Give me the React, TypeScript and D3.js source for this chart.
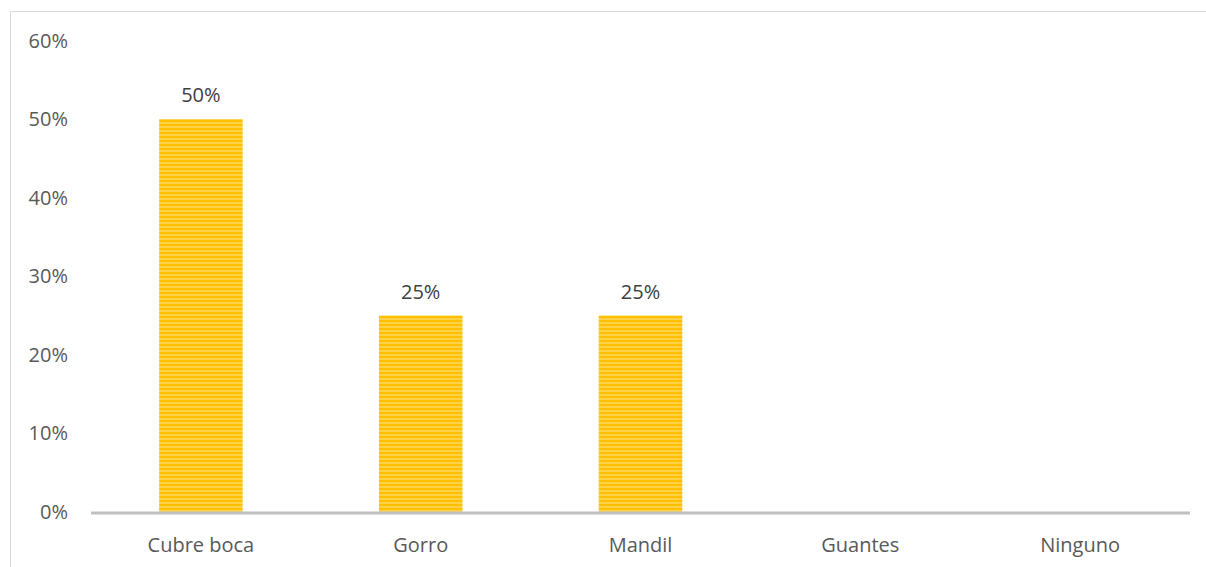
import React from "react";
import * as d3 from "d3";

const categories = ["Cubre boca", "Gorro", "Mandil", "Guantes", "Ninguno"];
const values = [0.5, 0.25, 0.25, 0, 0];
const yTicks = [0, 0.1, 0.2, 0.3, 0.4, 0.5, 0.6];

const W = 1206;
const H = 567;

export default function App() {
  const x = d3.scaleBand<string>().domain(categories).range([91, 1190]).paddingInner(0.62).paddingOuter(0.31);
  const y = d3.scaleLinear().domain([0, 0.6]).range([512, 40.5]);
  const fmt = d3.format(".0%");
  const font = "'Open Sans', 'Liberation Sans', sans-serif";
  const fs = 20;
  return (
    <svg width={W} height={H} style={{ position: "absolute", left: 0, top: 0, background: "#fff" }} fontFamily={font}>
      <defs>
        <pattern id="stripes" width="8" height="4" patternUnits="userSpaceOnUse">
          <rect width="8" height="4" fill="#ffc000" />
          <rect y="2.5" width="8" height="1" fill="#ffe38f" />
        </pattern>
      </defs>
      <rect x={10.5} y={11.5} width={W} height={H} fill="none" stroke="#d9d9d9" />
      {yTicks.map((t) => (
        <text key={t} x={68} y={y(t)} dy="0.35em" textAnchor="end" fontSize={fs} fill="#595959">
          {fmt(t)}
        </text>
      ))}
      {categories.map((c, i) =>
        values[i] > 0 ? (
          <g key={c}>
            <rect x={x(c)} y={y(values[i])} width={x.bandwidth()} height={y(0) - y(values[i])} fill="url(#stripes)" />
            <text x={(x(c) as number) + x.bandwidth() / 2} y={y(values[i]) - 24} dy="0.35em" textAnchor="middle" fontSize={fs} fill="#404040">
              {fmt(values[i])}
            </text>
          </g>
        ) : null
      )}
      <line x1={91} x2={1190} y1={513} y2={513} stroke="#bfbfbf" strokeWidth={3} />
      {categories.map((c) => (
        <text key={c} x={(x(c) as number) + x.bandwidth() / 2} y={545} dy="0.35em" textAnchor="middle" fontSize={fs} fill="#595959">
          {c}
        </text>
      ))}
    </svg>
  );
}
